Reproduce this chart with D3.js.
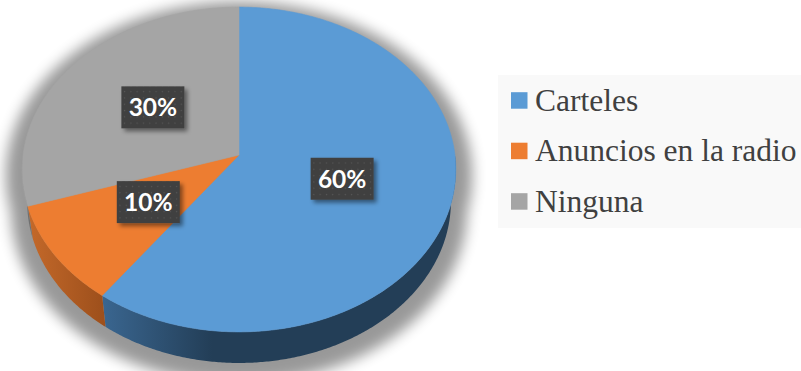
<!DOCTYPE html>
<html>
<head>
<meta charset="utf-8">
<script src="https://cdn.jsdelivr.net/npm/d3@7"></script>
<style>
  html, body { margin: 0; padding: 0; background: #ffffff; }
  svg { display: block; }
</style>
</head>
<body>
<svg id="chart" width="801" height="371"></svg>
<script>
// Survey answers: which medium people noticed
const categories = ["Carteles", "Anuncios en la radio", "Ninguna"];
const values = [60, 10, 30];
const valueLabels = ["60%", "10%", "30%"];
const topColors = ["#5b9bd5", "#ed7d31", "#a5a5a5"];
const sideColorsLight = ["#3a6690", "#c4692a", "#8a8a8a"];
const sideColorsDark = ["#233e57", "#9e501c", "#707070"];

const svg = d3.select("#chart");
const defs = svg.append("defs");

// --- 3D projection of a tilted disc (perspective camera looking down) ---
const cx = 239, cy = 155;        // screen position of the pie centre
const elev = Math.asin(0.746);   // camera elevation
const camDist = 7.46;            // camera distance, in pie radii
const focal = 1611;              // focal length, px
const thickness = 0.23;          // pie height, in pie radii

function project(theta, r, h) {
  // theta: clockwise from 12 o'clock (far side), r: fraction of radius, h: height
  const X = r * Math.sin(theta);
  const Z = -r * Math.cos(theta);            // + towards the viewer
  const yUp = h * Math.cos(elev) - Z * Math.sin(elev);
  const d = camDist - (Z * Math.cos(elev) + h * Math.sin(elev));
  return [cx + focal * X / d, cy - focal * yUp / d];
}

function arcPoints(a0, a1, r, h) {
  const n = Math.max(2, Math.ceil(Math.abs(a1 - a0) / (Math.PI / 360)));
  return d3.range(n + 1).map(i => project(a0 + (a1 - a0) * i / n, r, h));
}

const line = d3.line();
const pie = d3.pie().sort(null).value(d => d).startAngle(0).endAngle(2 * Math.PI);
const arcs = pie(values);

// --- soft shadow under the solid ---
defs.append("filter").attr("id", "shadowBlur")
  .attr("x", "-20%").attr("y", "-20%").attr("width", "140%").attr("height", "140%")
  .append("feGaussianBlur").attr("stdDeviation", 6.5);

const shadowG = svg.append("g")
  .attr("filter", "url(#shadowBlur)")
  .attr("opacity", 0.4)
  .attr("transform", "translate(239,206) scale(1.075,1.07) translate(-239,-198)");
shadowG.append("path")
  .attr("d", line(arcPoints(0, 2 * Math.PI, 1, 0)) + "Z")
  .attr("fill", "#000");
shadowG.append("path")
  .attr("d", line(arcPoints(0, 2 * Math.PI, 1, -thickness)) + "Z")
  .attr("fill", "#000");
shadowG.append("path")
  .attr("d", line(arcPoints(Math.PI / 2, 1.5 * Math.PI, 1, 0)
    .concat(arcPoints(1.5 * Math.PI, Math.PI / 2, 1, -thickness))) + "Z")
  .attr("fill", "#000");

// --- side walls of the front half ---
const frontStart = Math.PI / 2, frontEnd = 1.5 * Math.PI;
arcs.forEach((a, i) => {
  const s = Math.max(a.startAngle, frontStart);
  const e = Math.min(a.endAngle, frontEnd);
  if (e <= s) return;
  const topEdge = arcPoints(s, e, 1, 0);
  const botEdge = arcPoints(e, s, 1, -thickness);
  const xs = topEdge.map(p => p[0]);
  const gid = "side" + i;
  const g = defs.append("linearGradient").attr("id", gid)
    .attr("gradientUnits", "userSpaceOnUse")
    .attr("x1", d3.min(xs)).attr("x2", i === 0 ? d3.min(xs) + 110 : d3.max(xs))
    .attr("y1", 0).attr("y2", 0);
  g.append("stop").attr("offset", 0).attr("stop-color", sideColorsLight[i]);
  g.append("stop").attr("offset", 1).attr("stop-color", sideColorsDark[i]);
  svg.append("path")
    .attr("d", line(topEdge.concat(botEdge)) + "Z")
    .attr("fill", `url(#${gid})`);
});

// --- top faces ---
arcs.forEach((a, i) => {
  const pts = [project(0, 0, 0)].concat(arcPoints(a.startAngle, a.endAngle, 1, 0));
  svg.append("path")
    .attr("d", line(pts) + "Z")
    .attr("fill", topColors[i])
    .attr("stroke", topColors[i])
    .attr("stroke-width", 0.6);
});

// --- value labels in dark dotted boxes ---
const pat = defs.append("pattern").attr("id", "dots")
  .attr("patternUnits", "userSpaceOnUse").attr("width", 6.3).attr("height", 6.3);
pat.append("rect").attr("width", 6.3).attr("height", 6.3).attr("fill", "#404040");
pat.append("rect").attr("x", 2.6).attr("y", 2.6).attr("width", 1.2).attr("height", 1.2).attr("fill", "#575757");

const ds = defs.append("filter").attr("id", "boxShadow")
  .attr("x", "-20%").attr("y", "-20%").attr("width", "150%").attr("height", "160%");
ds.append("feDropShadow").attr("dx", 3).attr("dy", 3).attr("stdDeviation", 2)
  .attr("flood-color", "#000").attr("flood-opacity", 0.45);

const boxW = 63, boxH = 42;
arcs.forEach((a, i) => {
  const mid = (a.startAngle + a.endAngle) / 2;
  const [lx, ly] = project(mid, 0.5, 0);
  const g = svg.append("g").attr("transform", `translate(${lx - 1},${ly - 1.5})`);
  g.append("rect")
    .attr("x", -boxW / 2).attr("y", -boxH / 2)
    .attr("width", boxW).attr("height", boxH)
    .attr("fill", "url(#dots)")
    .attr("filter", "url(#boxShadow)");
  g.append("text")
    .attr("text-anchor", "middle")
    .attr("y", 8.8)
    .attr("font-family", "Lato, 'Open Sans', sans-serif")
    .attr("font-weight", 700)
    .attr("font-size", 24.5)
    .attr("fill", "#ffffff")
    .text(valueLabels[i]);
});

// --- legend ---
const legend = svg.append("g");
legend.append("rect")
  .attr("x", 498).attr("y", 75).attr("width", 303).attr("height", 153)
  .attr("fill", "#f9f9f9");
const rowY = d3.scaleLinear().domain([0, 1]).range([110.7, 161.2]);
categories.forEach((c, i) => {
  const by = rowY(i);
  legend.append("rect")
    .attr("x", 511).attr("y", by - 18.5)
    .attr("width", 16.5).attr("height", 16.5)
    .attr("fill", topColors[i]);
  legend.append("text")
    .attr("x", 535).attr("y", by)
    .attr("font-family", "'Liberation Serif', 'Times New Roman', serif")
    .attr("font-size", 31.5)
    .attr("fill", "#404040")
    .text(c);
});
</script>
</body>
</html>
